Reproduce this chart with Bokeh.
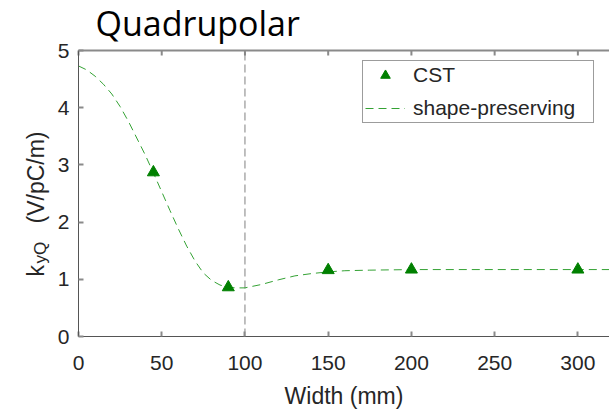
import math
from bokeh.plotting import figure
from bokeh.models import (Legend, LegendItem, Label, LinearAxis,
                          FixedTicker, Range1d)
from bokeh.embed import file_html
from bokeh.resources import INLINE

# ---------------- data ----------------
title_text = "Quadrupolar"
x_label = "Width (mm)"
y_label_main = "k"
y_label_sub = "yQ"
y_label_unit = "(V/pC/m)"

cst_width = [45, 90, 150, 200, 300]
cst_k = [2.87, 0.86, 1.16, 1.17, 1.17]

fit_width = [0, 5, 10, 15, 20, 25, 30, 35, 40, 45, 50, 55, 60, 65, 70, 75,
             80, 85, 90, 95, 100, 110, 120, 130, 140, 150, 160, 175, 200,
             250, 300, 320]
fit_k = [4.73, 4.66, 4.55, 4.41, 4.24, 4.02, 3.76, 3.47, 3.18, 2.86, 2.53,
         2.20, 1.88, 1.58, 1.32, 1.11, 0.98, 0.90, 0.86, 0.85, 0.85, 0.91,
         0.99, 1.06, 1.10, 1.13, 1.15, 1.16, 1.17, 1.17, 1.17, 1.17]

x_ticks = [0, 50, 100, 150, 200, 250, 300]
y_ticks = [0, 1, 2, 3, 4, 5]
x_max = 319
ref_width = 100

legend_cst = "CST"
legend_fit = "shape-preserving"

# ---------------- layout (pixels) ----------------
W, H = 609, 410
LEFT, TOP, BOTTOM = 78, 50, 74          # plot-box position on the canvas
TICK_LEN = 5                             # inward tick length, px
sx = (W - LEFT) / x_max                  # px per mm
sy = (H - TOP - BOTTOM) / y_ticks[-1]    # px per V/pC/m

def dx(px):
    return (px - LEFT) / sx
def dy(py):
    return (H - BOTTOM - py) / sy

y_lo, y_hi = y_ticks[0], y_ticks[-1]
x_lo = x_ticks[0]

p = figure(width=W, height=H,
           x_range=Range1d(dx(0), dx(W)), y_range=Range1d(dy(H), dy(0)),
           output_backend="svg", toolbar_location=None,
           x_axis_location=None, y_axis_location=None,
           min_border=0)
p.outline_line_color = None
p.xgrid.visible = False
p.ygrid.visible = False

AX = "#555555"
TK = "#8a8a8a"
TXT = "#262626"
FONT = "Liberation Sans"

def make_axis(ticks, loc, bounds):
    ax = LinearAxis(ticker=FixedTicker(ticks=ticks), fixed_location=loc,
                    bounds=bounds)
    ax.axis_line_color = AX
    ax.axis_line_width = 1
    ax.major_tick_line_color = TK
    ax.major_tick_line_width = 2
    ax.major_tick_in = TICK_LEN
    ax.major_tick_out = 0
    ax.minor_tick_line_color = None
    ax.major_label_text_font = FONT
    ax.major_label_text_font_size = "21px"
    ax.major_label_text_color = TXT
    return ax

xa = make_axis(x_ticks, y_lo, (x_lo, x_max))
xa.major_label_standoff = 19
xa.axis_label = x_label
xa.axis_label_text_font = FONT
xa.axis_label_text_font_size = "23px"
xa.axis_label_text_font_style = "normal"
xa.axis_label_text_color = TXT
xa.axis_label_standoff = 10
p.add_layout(xa, "below")

ya = make_axis(y_ticks, x_lo, (y_lo, y_hi))
ya.major_label_standoff = 9
p.add_layout(ya, "left")

# ---------------- glyphs ----------------
# box top edge with its inward tick marks (from the tick list)
p.segment(x0=[x_lo], y0=[y_hi], x1=[x_max], y1=[y_hi], line_color=TK,
          line_width=2)
p.segment(x0=x_ticks, y0=[y_hi] * len(x_ticks), x1=x_ticks,
          y1=[y_hi - TICK_LEN / sy] * len(x_ticks), line_color=TK,
          line_width=2)

p.segment(x0=[ref_width], y0=[y_lo], x1=[ref_width], y1=[y_hi],
          line_color="#808080", line_width=1, line_dash="8 4")

fit_r = p.line(fit_width, fit_k, line_color="#34a234", line_width=1,
               line_dash="8 5")
cst_r = p.scatter(cst_width, cst_k, marker="triangle", size=12,
                  fill_color="#008000", line_color="#008000")

legend = Legend(items=[LegendItem(label=legend_cst, renderers=[cst_r]),
                       LegendItem(label=legend_fit, renderers=[fit_r])],
                location=(362, 287), orientation="vertical",
                padding=2, spacing=9, margin=0,
                glyph_width=40, glyph_height=24, label_height=24,
                label_width=178, label_standoff=8,
                label_text_font=FONT, label_text_font_size="21px",
                label_text_color=TXT,
                border_line_color="#3a3a3a", border_line_width=1,
                background_fill_color="white", background_fill_alpha=1)
p.add_layout(legend)

# ---------------- texts ----------------
p.add_layout(Label(x=dx(95), y=dy(22), text=title_text, text_font="Open Sans",
                   text_font_size="34px", text_color="black",
                   text_baseline="alphabetic", text_align="left"))

rot = math.pi / 2
def ylab(px, py, text, size):
    return Label(x=dx(px), y=dy(py), text=text, angle=rot, text_font=FONT,
                 text_font_size=size, text_color=TXT,
                 text_baseline="alphabetic", text_align="left")

p.add_layout(ylab(35, 276, y_label_main, "23px"))
p.add_layout(ylab(40, 263, y_label_sub, "17px"))
p.add_layout(ylab(35, 223, y_label_unit, "23px"))

open("out.html", "w").write(file_html(p, INLINE))
